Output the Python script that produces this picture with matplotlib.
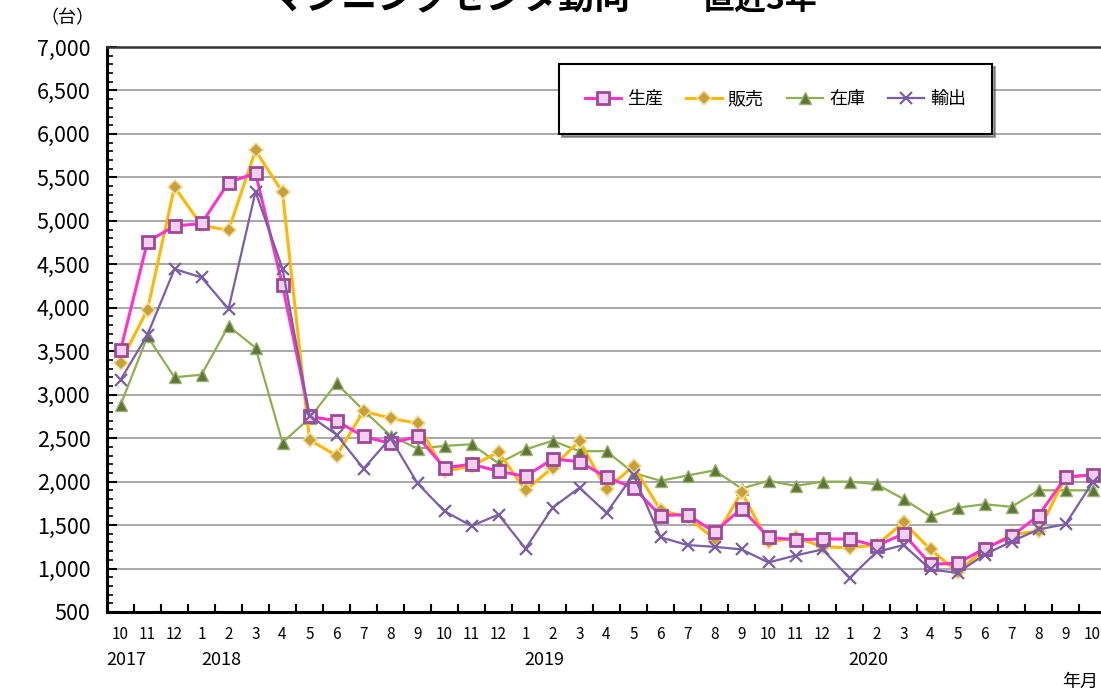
import matplotlib
matplotlib.use("Agg")
import matplotlib.pyplot as plt
from matplotlib.ticker import MultipleLocator, FuncFormatter
import numpy as np

plt.rcParams['font.family'] = ['Noto Sans CJK JP', 'DejaVu Sans']

months = ["10", "11", "12", "1", "2", "3", "4", "5", "6", "7", "8", "9",
          "10", "11", "12", "1", "2", "3", "4", "5", "6", "7", "8", "9",
          "10", "11", "12", "1", "2", "3", "4", "5", "6", "7", "8", "9", "10"]
years = ["2017", "2018", "2019", "2020"]
year_pos = [0.2, 3.75, 15.7, 27.7]

production = [3510, 4760, 4940, 4970, 5440, 5550, 4260, 2750, 2700, 2520, 2440, 2520,
              2160, 2200, 2120, 2060, 2260, 2230, 2050, 1930, 1610, 1620, 1420, 1690,
              1360, 1330, 1340, 1340, 1260, 1400, 1050, 1060, 1230, 1370, 1610, 2050, 2080]
sales = [3370, 3980, 5390, 4950, 4890, 5810, 5330, 2480, 2300, 2810, 2730, 2670,
         2120, 2180, 2340, 1900, 2160, 2470, 1910, 2180, 1670, 1590, 1340, 1880,
         1300, 1360, 1250, 1240, 1270, 1530, 1220, 960, 1220, 1390, 1430, 2050, 2080]
inventory = [2880, 3670, 3200, 3230, 3790, 3540, 2450, 2730, 3130, 2820, 2530, 2380,
             2410, 2430, 2210, 2370, 2470, 2350, 2350, 2100, 2010, 2070, 2130, 1920,
             2010, 1950, 2000, 2000, 1970, 1800, 1600, 1700, 1740, 1710, 1900, 1900, 1900]
export = [3170, 3690, 4445, 4350, 3985, 5335, 4450, 2760, 2540, 2150, 2500, 1980,
          1660, 1490, 1620, 1230, 1700, 1930, 1640, 2080, 1360, 1270, 1250, 1220,
          1070, 1150, 1220, 890, 1190, 1270, 990, 950, 1160, 1310, 1450, 1510, 1990]

series_names = ["生産", "販売", "在庫", "輸出"]

W, H = 1101, 695
fig = plt.figure(figsize=(W / 100, H / 100), dpi=100)
ax = fig.add_axes([107 / W, 83 / H, 999 / W, 565 / H])

x = np.arange(len(months))

ax.plot(x, inventory, color="#8db050", lw=1.6, marker="^", ms=8,
        mfc="#5f7535", mec="#9bb070", mew=1, label=series_names[2], zorder=3)
ax.plot(x, sales, color="#ffb800", lw=2.2, marker="D", ms=7,
        mfc="#c8a035", mec="#f0e0a0", mew=1.2, label=series_names[1], zorder=4)
ax.plot(x, production, color="#ff33cc", lw=2.2, marker="s", ms=8,
        mfc="#f4d0f0", mec="#a04898", mew=2, label=series_names[0], zorder=5)
ax.plot(x, export, color="#7a5ea6", lw=1.6, marker="x", ms=9,
        mec="#7a5ea6", mew=1.6, label=series_names[3], zorder=6)

ax.set_xlim(-0.5, 36.5)
ax.set_ylim(500, 7000)

ax.yaxis.set_major_locator(MultipleLocator(500))
ax.yaxis.set_minor_locator(MultipleLocator(100))
ax.yaxis.set_major_formatter(FuncFormatter(lambda v, p: f"{int(v):,}"))
ax.tick_params(axis="y", which="major", direction="in", length=7, width=1.5,
               labelsize=15.5, pad=12)
ax.tick_params(axis="y", which="minor", direction="in", length=4, width=1.2)

ax.set_xticks(x)
ax.set_xticklabels(months)
ax.set_xticks(np.arange(-0.5, 37, 1), minor=True)
ax.tick_params(axis="x", which="major", length=0, labelsize=11, pad=10)
ax.tick_params(axis="x", which="minor", direction="in", length=6, width=1.5)

ax.grid(axis="y", which="major", color="#a8a8a8", lw=1.4)
ax.set_axisbelow(True)

for s in ["left", "bottom"]:
    ax.spines[s].set_linewidth(2.2)
    ax.spines[s].set_color("black")
ax.spines["top"].set_linewidth(1.8)
ax.spines["top"].set_color("#333333")
ax.spines["right"].set_visible(False)

for yr, xp in zip(years, year_pos):
    ax.text(xp, -0.085, yr, transform=ax.get_xaxis_transform(), ha="center",
            va="center", fontsize=13)

fig.text(1080 / W, 1 - 682 / H, "年月", ha="center", va="center", fontsize=13)
fig.text(67 / W, 1 - 18 / H, "（台）", ha="center", va="center", fontsize=13)

fig.text(270 / W, 1 - 9 / H, "マシニングセンタ動向", ha="left", va="baseline",
         fontsize=26, fontweight="bold")
fig.text(665 / W, 1 - 9 / H, "―", ha="center", va="baseline", fontsize=24)
fig.text(702 / W, 1 - 9 / H, "直近3年", ha="left", va="baseline",
         fontsize=23, fontweight="bold")

handles, labels = ax.get_legend_handles_labels()
hd = [handles[labels.index(n)] for n in series_names]
leg = ax.legend(hd, series_names, ncol=4, loc="center",
                bbox_to_anchor=(0.4565, 0.848, 0.4255, 0.12),
                frameon=True, fancybox=False, shadow=True, fontsize=13,
                handlelength=2.0, columnspacing=1.3, handletextpad=0.3,
                borderpad=1.45, borderaxespad=0)
leg.get_frame().set_edgecolor("black")
leg.get_frame().set_linewidth(1.5)

fig.savefig("out.png", dpi=100)
